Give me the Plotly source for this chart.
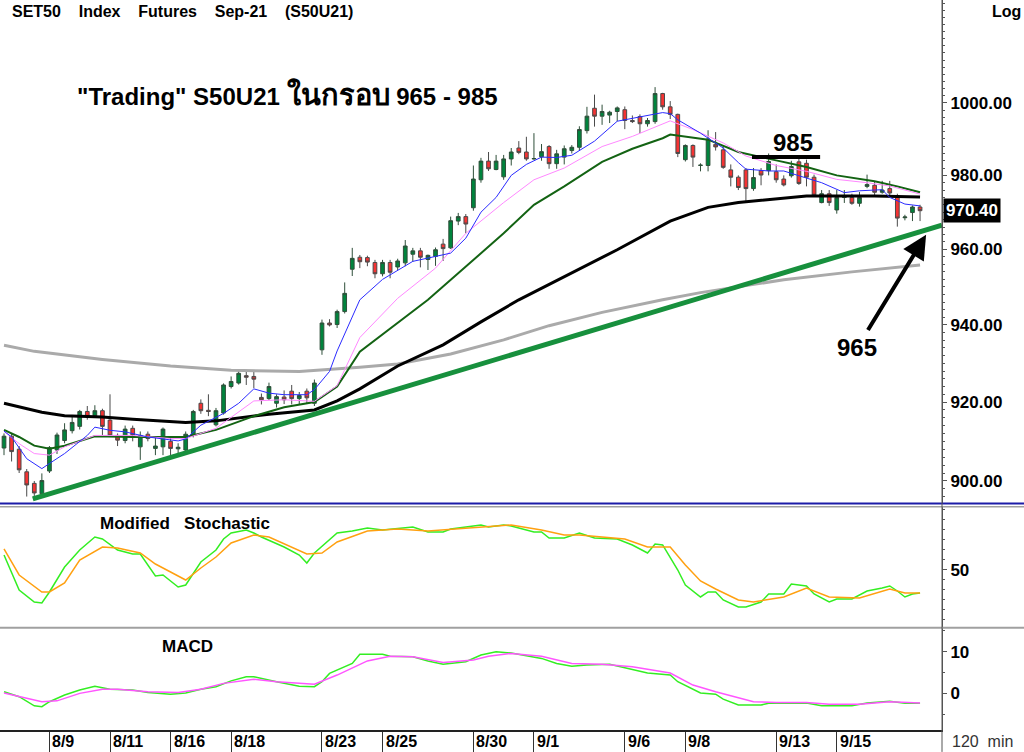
import math
import plotly.graph_objects as go

# ---- 120 min bars, S50U21 (index = bar number, 4 bars per session day) ----
bar_open = [908.3, 911.3, 908.0, 902.3, 899.4, 896.8, 902.5, 907.8, 910.2, 912.7,
            913.8, 917.6, 916.5, 917.8, 915.4, 911.5, 910.2, 913.3, 908.6, 911.8,
            908.2, 908.6, 910.0, 908.1, 907.8, 911.5, 919.7, 917.9, 914.2, 917.2,
            924.0, 924.9, 926.8, 926.6, 921.2, 920.9, 919.7, 921.3, 922.8, 920.9,
            922.8, 919.7, 933.5, 940.5, 940.1, 943.5, 954.7, 957.9, 957.8, 956.5,
            953.5, 956.5, 955.3, 956.4, 958.7, 959.6, 957.3, 958.1, 961.4, 960.4,
            967.6, 968.8, 971.2, 978.8, 983.9, 981.6, 979.6, 984.5, 987.5, 986.4,
            984.5, 985.1, 987.9, 983.2, 985.0, 986.8, 987.7, 992.3, 998.5, 996.3,
            996.6, 997.6, 998.1, 995.1, 996.2, 994.2, 994.8, 1002.6, 998.9, 996.8,
            984.3, 988.2, 982.7, 982.7, 988.5, 987.0, 981.5, 979.5, 981.5, 976.4,
            981.3, 981.3, 981.0, 979.0, 979.9, 983.7, 983.3, 979.5, 972.6, 975.0,
            970.6, 974.0, 974.0, 972.4, 977.0, 977.3, 975.4, 976.4, 974.0, 968.5,
            969.9, 971.4]
bar_high = [912.0, 912.0, 908.8, 903.0, 900.0, 901.9, 908.8, 912.2, 914.6, 916.4,
            918.0, 919.0, 919.2, 918.3, 922.0, 912.0, 914.0, 914.0, 912.5, 912.5,
            911.0, 913.5, 911.0, 909.5, 912.5, 918.0, 920.7, 922.0, 918.5, 924.8,
            926.6, 928.3, 928.3, 927.8, 922.2, 925.0, 922.0, 923.0, 924.4, 922.6,
            923.5, 925.8, 941.4, 941.5, 944.0, 951.2, 960.4, 958.5, 958.3, 957.2,
            957.2, 957.2, 957.5, 962.5, 960.4, 960.4, 958.6, 960.5, 962.8, 968.8,
            969.8, 969.5, 982.7, 984.8, 986.4, 985.6, 985.6, 987.5, 989.4, 990.6,
            991.6, 988.6, 988.3, 987.0, 988.2, 988.3, 993.5, 998.9, 1002.3, 999.5,
            997.8, 999.0, 999.0, 996.5, 996.8, 995.8, 1004.4, 1002.8, 1000.5, 997.0,
            988.5, 988.5, 983.3, 992.4, 991.9, 988.1, 983.0, 980.0, 982.0, 982.0,
            982.0, 986.0, 983.0, 980.0, 984.0, 985.0, 984.3, 980.2, 976.0, 976.0,
            976.0, 976.0, 975.0, 975.5, 980.2, 978.4, 978.5, 978.5, 975.0, 969.3,
            971.8, 972.0]
bar_low = [906.5, 904.9, 902.0, 896.1, 896.0, 896.0, 902.0, 906.8, 909.5, 912.0,
           913.0, 915.5, 916.0, 911.5, 911.1, 908.8, 909.5, 910.0, 905.3, 910.0,
           906.5, 906.5, 906.5, 907.0, 906.8, 911.0, 917.0, 916.4, 913.8, 916.8,
           923.5, 924.5, 924.4, 923.6, 919.4, 920.5, 918.6, 919.5, 919.4, 919.4,
           919.5, 919.0, 932.2, 939.6, 939.2, 943.0, 952.9, 955.0, 955.5, 952.3,
           952.8, 952.3, 954.5, 955.5, 956.7, 955.2, 954.5, 955.6, 956.9, 960.1,
           966.5, 964.3, 970.4, 978.0, 981.2, 981.4, 978.8, 982.7, 985.8, 984.0,
           984.3, 984.0, 981.8, 981.8, 983.0, 986.0, 986.7, 991.5, 993.4, 993.9,
           994.4, 994.9, 992.7, 994.4, 991.6, 993.4, 994.2, 998.1, 995.5, 985.0,
           983.8, 982.3, 981.1, 981.1, 986.8, 981.8, 977.0, 976.0, 972.8, 975.8,
           977.3, 980.0, 978.0, 977.0, 979.4, 977.4, 977.0, 974.2, 972.4, 971.7,
           969.6, 972.5, 972.0, 971.5, 976.5, 974.6, 975.0, 974.6, 966.1, 967.8,
           967.6, 967.6]
bar_close = [911.3, 907.4, 902.8, 899.0, 897.0, 900.1, 908.4, 911.6, 912.9, 914.8,
             917.6, 916.3, 917.8, 913.8, 911.5, 910.3, 913.1, 911.5, 911.5, 910.7,
             908.8, 913.1, 908.2, 908.5, 911.8, 917.6, 917.8, 917.6, 917.8, 924.4,
             925.3, 927.4, 926.4, 925.9, 920.6, 924.0, 921.4, 920.6, 920.9, 921.7,
             921.1, 924.9, 940.5, 940.0, 943.5, 948.3, 957.6, 956.7, 956.6, 953.5,
             956.5, 953.9, 956.9, 960.9, 959.6, 957.9, 958.4, 959.9, 960.2, 967.7,
             968.8, 966.8, 979.0, 983.9, 981.8, 983.9, 984.5, 986.4, 986.3, 984.5,
             984.6, 986.5, 983.2, 985.9, 987.3, 987.7, 992.6, 996.3, 996.3, 997.6,
             997.4, 998.6, 995.1, 994.8, 994.2, 995.1, 1002.6, 998.9, 996.8, 986.0,
             988.2, 985.0, 982.8, 990.0, 987.8, 982.2, 979.5, 976.7, 976.4, 979.4,
             980.1, 983.8, 978.8, 977.4, 982.4, 977.8, 979.5, 974.6, 975.0, 972.6,
             974.0, 974.1, 972.4, 974.0, 977.5, 975.4, 976.0, 975.2, 968.4, 968.7,
             971.4, 970.4]
bar_index = list(range(len(bar_close)))

# moving averages (bar index, price)
ma_blue_x = [0, 1, 3, 5, 6, 8, 11, 12, 14, 16, 19, 23, 24, 26, 29, 31, 33, 35, 37, 40,
             41, 43, 44, 47, 50, 54, 59, 61, 63, 65, 67, 69, 71, 73, 75, 78, 81, 87, 88,
             89, 92, 95, 97, 98, 101, 103, 105, 108, 111, 113, 116, 117, 119, 121]
ma_blue_y = [912.6, 911.1, 905.6, 903.1, 904.4, 906.9, 911.5, 913.6, 912.8, 912.4, 911.1,
             910.1, 910.6, 914.1, 917.1, 919.7, 923.4, 922.3, 921.9, 921.9, 923.2, 927.9,
             933.2, 946.6, 952.0, 956.8, 959.0, 963.0, 970.0, 974.0, 980.0, 983.0, 985.0,
             984.9, 985.5, 989.4, 994.9, 997.3, 997.0, 995.3, 991.6, 987.5, 983.5, 981.7,
             981.2, 981.2, 979.9, 978.0, 975.3, 975.8, 976.1, 974.0, 972.2, 971.7]
ma_pink_x = [0, 2, 4, 6, 8, 12, 17, 22, 24, 28, 33, 37, 41, 44, 47, 52, 57, 61, 66, 70,
             74, 79, 83, 88, 91, 95, 98, 102, 106, 110, 114, 117, 121]
ma_pink_y = [912.5, 909.4, 906.9, 906.5, 908.6, 911.5, 911.5, 910.7, 910.7, 913.3, 920.3,
             920.6, 920.2, 924.2, 936.7, 947.0, 955.0, 964.3, 972.6, 978.8, 982.0, 987.9,
             990.7, 995.0, 992.6, 988.9, 985.3, 982.7, 981.1, 978.9, 978.0, 977.1, 974.9]
ma_green_x = [0, 2, 4, 6, 8, 12, 17, 24, 28, 33, 37, 41, 44, 47, 56, 61, 66, 70, 74, 79,
              83, 87, 88, 93, 97, 102, 106, 110, 113, 115, 118, 121]
ma_green_y = [912.9, 911.1, 908.9, 908.1, 908.9, 911.3, 911.1, 911.1, 912.9, 916.4, 918.7,
              920.0, 924.0, 933.0, 946.6, 955.3, 964.3, 972.0, 977.0, 983.7, 987.3, 990.2,
              991.2, 989.8, 986.4, 984.1, 982.3, 980.0, 979.0, 978.4, 977.0, 975.4]
ma_black_x = [0, 5, 8, 13, 17, 24, 28, 35, 41, 44, 47, 52, 58, 63, 68, 74, 81, 88, 93, 97,
              102, 106, 110, 115, 121]
ma_black_y = [919.7, 917.4, 916.5, 916.2, 915.6, 914.8, 915.2, 916.9, 918.0, 920.3, 923.4,
              929.3, 934.8, 940.8, 946.6, 952.8, 959.9, 967.6, 971.3, 972.6, 973.6, 974.4,
              974.4, 974.4, 974.1]
ma_gray_x = [0, 4, 13, 22, 30, 39, 47, 52, 59, 66, 72, 79, 87, 92, 103, 112, 121]
ma_gray_y = [934.7, 933.1, 931.0, 929.3, 928.2, 927.9, 929.0, 929.8, 932.4, 936.1, 939.8,
             943.3, 946.6, 948.5, 951.9, 954.0, 955.8]

# modified stochastic
stoch_k_x = [0, 2, 4, 5, 6, 8, 10, 12, 13, 15, 17, 18, 20, 21, 23, 24, 26, 28, 29, 30,
             32, 33, 34, 37, 39, 40, 41, 44, 46, 48, 50, 54, 56, 58, 59, 63, 64, 66, 67,
             70, 71, 72, 74, 76, 78, 81, 83, 85, 86, 87, 89, 90, 92, 93, 94, 95, 97, 98,
             100, 101, 103, 104, 106, 107, 109, 110, 112, 114, 116, 117, 118, 119, 120, 121]
stoch_k = [65, 30, 18, 17, 28, 53, 70, 83, 81, 70, 66, 66, 44, 45, 33, 35, 58, 70, 81, 87,
           90, 87, 83, 73, 65, 57, 67, 87, 89, 92, 90, 93, 88, 88, 91, 95, 93, 95, 94,
           88, 88, 82, 82, 87, 82, 81, 75, 67, 76, 75, 50, 35, 23, 28, 28, 20, 13, 13,
           18, 26, 26, 36, 34, 26, 18, 21, 21, 29, 32, 34, 29, 23, 26, 27]
stoch_d_x = [0, 2, 5, 6, 8, 10, 13, 15, 18, 20, 22, 24, 26, 28, 30, 33, 35, 38, 40, 42,
             44, 48, 52, 56, 61, 67, 71, 74, 76, 82, 85, 88, 90, 92, 94, 97, 99, 103, 106,
             109, 113, 117, 119, 121]
stoch_d = [71, 45, 28, 28, 37, 60, 73, 72, 67, 56, 48, 40, 52, 63, 77, 85, 83, 73, 66, 67,
           78, 89, 91, 89, 92, 95, 90, 85, 85, 81, 73, 73, 55, 39, 31, 20, 18, 23, 32,
           23, 22, 31, 27, 27]

# MACD
macd_x = [0, 2, 4, 5, 6, 8, 10, 12, 14, 17, 19, 22, 24, 26, 28, 30, 32, 33, 36, 39, 41,
          42, 43, 46, 47, 50, 51, 54, 56, 58, 61, 63, 65, 67, 71, 73, 75, 77, 80, 82, 85,
          88, 89, 92, 94, 95, 97, 100, 101, 104, 106, 108, 112, 114, 117, 119, 121]
macd_line = [0.4, -0.8, -3.0, -3.2, -2.0, -0.4, 0.8, 1.7, 1.0, 0.8, 0.2, -0.2, 0.1, 1.0,
             1.6, 3.0, 4.0, 4.0, 2.8, 1.7, 1.6, 2.8, 4.8, 7.2, 9.4, 9.4, 8.9, 8.8, 7.8, 7.0,
             7.6, 9.2, 10.0, 9.7, 8.4, 7.2, 6.5, 6.8, 7.0, 6.2, 4.9, 4.4, 2.8, 0.1, -0.2,
             -1.4, -2.8, -2.8, -2.4, -2.4, -2.3, -3.0, -3.0, -2.3, -1.9, -2.4, -2.4]
signal_x = [0, 2, 5, 7, 10, 13, 15, 19, 23, 26, 29, 33, 36, 41, 44, 48, 51, 54, 58, 62,
            64, 67, 71, 75, 79, 83, 86, 88, 91, 94, 99, 102, 106, 109, 113, 117, 121]
signal_line = [0.1, -0.8, -2.0, -1.8, 0.0, 1.0, 1.0, 0.4, 0.2, 1.0, 2.4, 3.4, 2.8, 2.2,
               4.4, 7.8, 8.9, 8.8, 7.4, 8.0, 8.9, 9.6, 8.9, 7.2, 7.0, 6.4, 5.4, 4.9, 2.0,
               0.4, -2.0, -2.2, -2.2, -2.6, -2.6, -2.0, -2.3]

# analyst drawings: support trendline, 985 resistance, arrow to 965
trend_x = [3.8, 123.9]
trend_y = [895.5, 966.5]
resist_x = [98.8, 107.8]
resist_y = [985, 985]

# x axis: first bar of each labelled day
day_ticks = [6, 14, 22, 30, 42, 50, 62, 70, 82, 90, 102, 110]
day_labels = ["8/9", "8/11", "8/16", "8/18", "8/23", "8/25", "8/30",
              "9/1", "9/6", "9/8", "9/13", "9/15"]
price_ticks = [900, 920, 940, 960, 980, 1000]
last_price = 970.40

FONT = "Liberation Sans, Arial, sans-serif"
SP = "\u00a0"

fig = go.Figure()

# candles
fig.add_trace(go.Candlestick(
    x=bar_index, open=bar_open, high=bar_high, low=bar_low, close=bar_close,
    increasing=dict(fillcolor="#00843d", line=dict(color="#2f4f3a", width=1)),
    decreasing=dict(fillcolor="#f53333", line=dict(color="#4a4a4a", width=1)),
    showlegend=False, yaxis="y"))

# moving averages
ma_specs = [
    (ma_gray_x, ma_gray_y, "#aaaaaa", 3),
    (ma_black_x, ma_black_y, "#000000", 3),
    (ma_green_x, ma_green_y, "#136313", 2),
    (ma_pink_x, ma_pink_y, "#ff88ff", 1),
    (ma_blue_x, ma_blue_y, "#2b2bff", 1),
]
for xs, ys, col, w in ma_specs:
    fig.add_trace(go.Scatter(x=xs, y=ys, mode="lines", line=dict(color=col, width=w),
                             showlegend=False, hoverinfo="skip", yaxis="y"))

fig.add_trace(go.Scatter(x=trend_x, y=trend_y, mode="lines",
                         line=dict(color="#17903d", width=5),
                         showlegend=False, hoverinfo="skip", yaxis="y"))
fig.add_trace(go.Scatter(x=resist_x, y=resist_y, mode="lines",
                         line=dict(color="#000000", width=4),
                         showlegend=False, hoverinfo="skip", yaxis="y"))

# stochastic panel
fig.add_trace(go.Scatter(x=stoch_k_x, y=stoch_k, mode="lines",
                         line=dict(color="#33ee22", width=1.5), showlegend=False, yaxis="y2"))
fig.add_trace(go.Scatter(x=stoch_d_x, y=stoch_d, mode="lines",
                         line=dict(color="#ffa010", width=1.5), showlegend=False, yaxis="y2"))

# macd panel
fig.add_trace(go.Scatter(x=macd_x, y=macd_line, mode="lines",
                         line=dict(color="#33ee22", width=1.5), showlegend=False, yaxis="y3"))
fig.add_trace(go.Scatter(x=signal_x, y=signal_line, mode="lines",
                         line=dict(color="#ff55ff", width=1.5), showlegend=False, yaxis="y3"))

axis_common = dict(side="right", anchor="x", showgrid=False, zeroline=False,
                   showline=True, linecolor="#555555", linewidth=1, automargin=False,
                   ticks="outside", ticklen=4, tickcolor="#555555",
                   tickfont=dict(family=FONT, size=17, color="black"))

fig.update_layout(
    width=1024, height=752,
    paper_bgcolor="white", plot_bgcolor="white",
    margin=dict(l=0, r=82, t=0, b=22),
    showlegend=False,
    xaxis=dict(domain=[0, 1], anchor="y3", range=[-0.53, 123.9], automargin=False,
               tickvals=day_ticks, ticktext=[""] * len(day_ticks),
               ticks="outside", ticklen=22, tickcolor="#333333",
               showline=True, linecolor="#222222", linewidth=1.5,
               showgrid=False, zeroline=False, rangeslider=dict(visible=False)),
    yaxis=dict(domain=[0.311, 1], type="log", range=[2.95158, 3.01245],
               tickvals=price_ticks, ticktext=[f"<b>{p:.2f}</b>" for p in price_ticks],
               minor=dict(tickvals=list(range(896, 1030, 2)), ticks="outside",
                          ticklen=2, tickcolor="#555555"),
               **axis_common),
    yaxis2=dict(domain=[0.1411, 0.3055], range=[-7, 113],
                tickvals=[50], ticktext=["<b>50</b>"],
                minor=dict(tickvals=list(range(0, 111, 10)), ticks="outside",
                           ticklen=2, tickcolor="#555555"),
                **axis_common),
    yaxis3=dict(domain=[0, 0.1397], range=[-8.8, 15.7],
                tickvals=[0, 10], ticktext=["<b>0</b>", "<b>10</b>"],
                minor=dict(tickvals=[-5, 5, 15], ticks="outside",
                           ticklen=2, tickcolor="#555555"),
                **axis_common),
)

# panel separators
fig.add_shape(type="line", xref="paper", yref="paper", x0=0, x1=1.09, y0=0.3103, y1=0.3103,
              line=dict(color="#1c1ca8", width=2))
fig.add_shape(type="line", xref="paper", yref="paper", x0=0, x1=1.09, y0=0.3058, y1=0.3058,
              line=dict(color="#a0a0a0", width=1.5))
fig.add_shape(type="line", xref="paper", yref="paper", x0=0, x1=1.09, y0=0.1402, y1=0.1402,
              line=dict(color="#a0a0a0", width=2))
fig.add_shape(type="line", xref="paper", yref="paper", x0=1, x1=1, y0=-0.03, y1=1,
              line=dict(color="#555555", width=1))

# date labels sit to the right of each day tick
for t, lab in zip(day_ticks, day_labels):
    fig.add_annotation(x=t, xref="x", xanchor="left", xshift=1,
                       y=0, yref="paper", yanchor="top", yshift=-1,
                       text=f"<b>{lab}</b>", showarrow=False,
                       font=dict(family=FONT, size=16, color="black"))

texts = [
    dict(x=0.0106, y=0.9836, xanchor="left", size=16,
         text=f"<b>SET50{SP*3} Index{SP*3} Futures{SP*3} Sep-21{SP*3} (S50U21)</b>"),
    dict(x=0.0796, y=0.8699, xanchor="left", size=24,
         text="<b>\"Trading\" S50U21 <span style='font-size:29px'>ในกรอบ</span> 965 - 985</b>"),
    dict(x=1.068, y=0.9836, xanchor="center", size=16, text="<b>Log</b>"),
    dict(x=0.104, y=0.2822, xanchor="left", size=17, text=f"<b>Modified{SP*2} Stochastic</b>"),
    dict(x=0.170, y=0.115, xanchor="left", size=17, text="<b>MACD</b>"),
]
for t in texts:
    fig.add_annotation(x=t["x"], y=t["y"], xref="paper", yref="paper",
                       xanchor=t["xanchor"], yanchor="middle", text=t["text"],
                       showarrow=False, font=dict(family=FONT, size=t["size"], color="black"))

fig.add_annotation(x=1.0085, y=0, xref="paper", yref="paper", xanchor="left", yanchor="top",
                   yshift=-1, text=f"120{SP} min", showarrow=False,
                   font=dict(family=FONT, size=16, color="#333333"))

# last price box
fig.add_annotation(x=1.001, xref="paper", xanchor="left", y=math.log10(last_price), yref="y",
                   text=f"<b>{last_price:.2f}</b>", showarrow=False, bgcolor="black",
                   borderpad=2, font=dict(family=FONT, size=17, color="white"))

# 985 / 965 call-outs
fig.add_annotation(x=104.2, y=math.log10(989), xref="x", yref="y", text="<b>985</b>",
                   showarrow=False, font=dict(family=FONT, size=24, color="black"))
fig.add_annotation(x=112.7, y=math.log10(934), xref="x", yref="y", text="<b>965</b>",
                   showarrow=False, font=dict(family=FONT, size=24, color="black"))
fig.add_annotation(x=121.8, y=math.log10(963.9), xref="x", yref="y",
                   ax=114.0, ay=math.log10(938.3), axref="x", ayref="y",
                   text="", showarrow=True, arrowhead=2, arrowsize=1.2, arrowwidth=4,
                   arrowcolor="black")

# page body margin would push the 1024x752 figure off the window
fig.write_html("out.html", config={"displayModeBar": False},
               post_script="document.body.style.margin='0';")
